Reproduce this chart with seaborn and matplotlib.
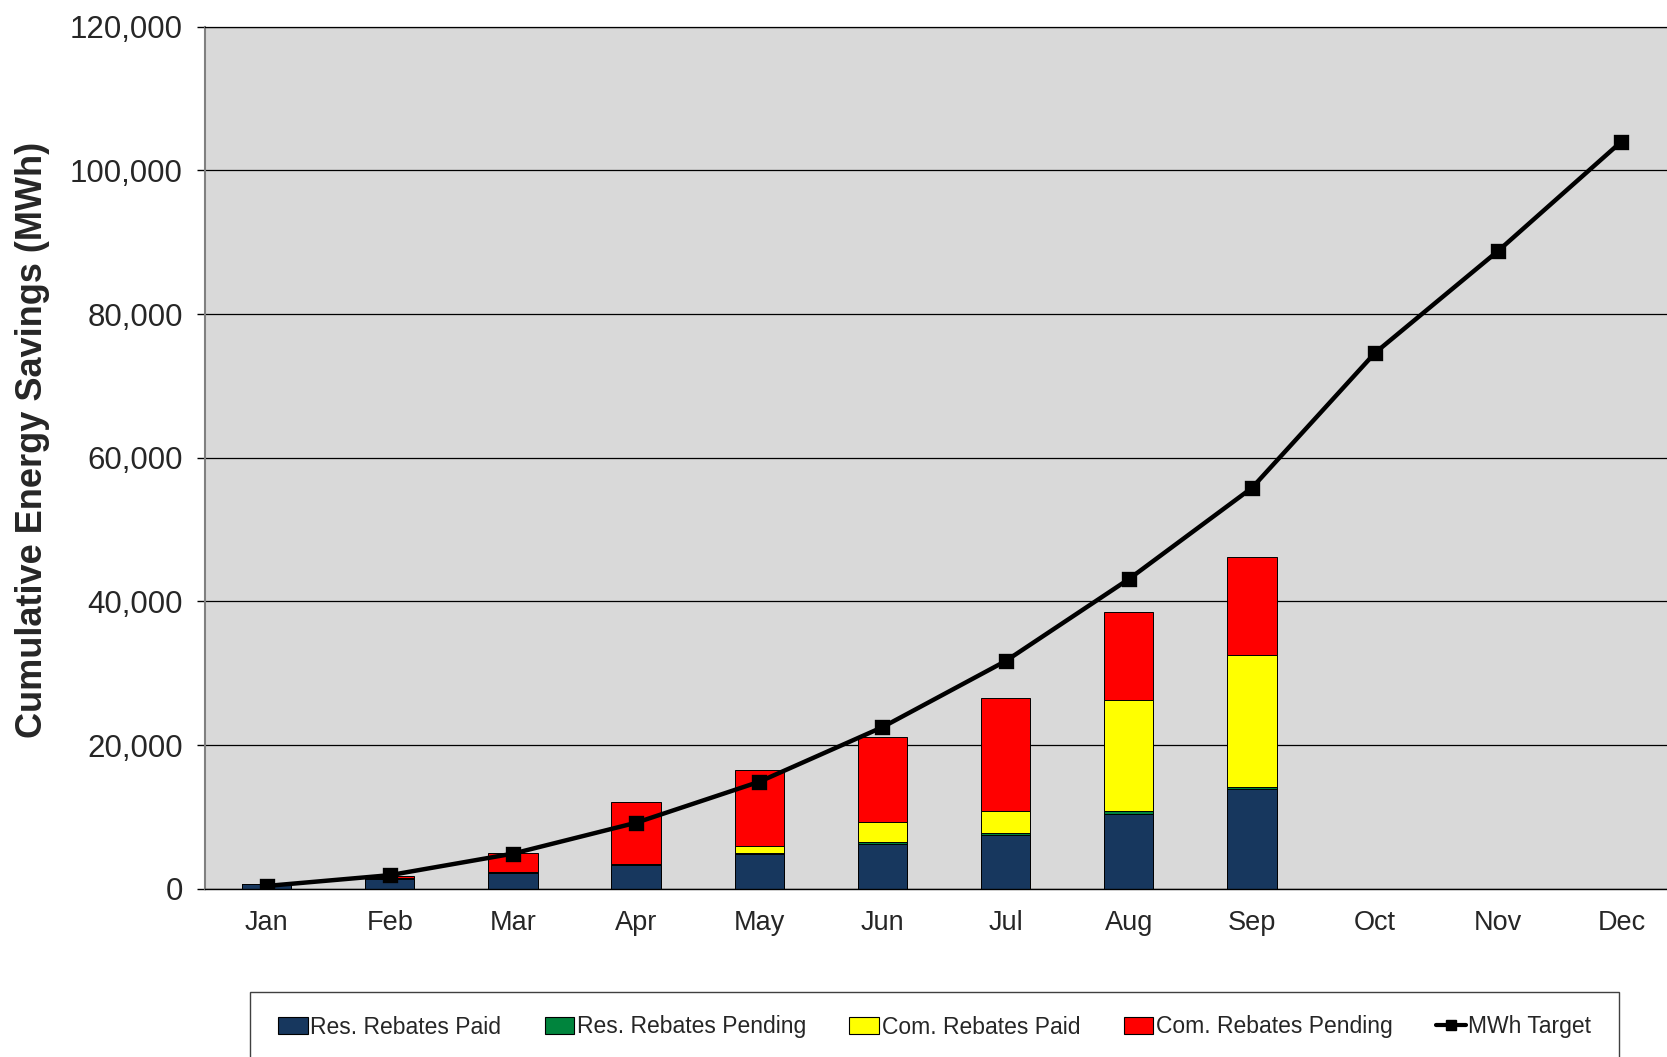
import matplotlib
matplotlib.use("Agg")
import matplotlib.pyplot as plt
from matplotlib.patches import Patch, Rectangle
from matplotlib.lines import Line2D
from matplotlib.ticker import FuncFormatter, FixedLocator
import numpy as np
import pandas as pd
import seaborn as sns

months = ["Jan", "Feb", "Mar", "Apr", "May", "Jun", "Jul", "Aug", "Sep", "Oct", "Nov", "Dec"]

# cumulative savings by month (MWh), data only through Sep
res_paid = [650, 1400, 2200, 3350, 4850, 6200, 7550, 10350, 13900]
res_pending = [30, 50, 100, 150, 150, 250, 250, 450, 250]
com_paid = [0, 0, 0, 0, 900, 2900, 3000, 15450, 18400]
com_pending = [50, 300, 2700, 8600, 10650, 11750, 15800, 12300, 13700]

mwh_target = [400, 1900, 4900, 9200, 14900, 22500, 31700, 43100, 55800, 74600, 88800, 104000]

labels = ["Res. Rebates Paid", "Res. Rebates Pending", "Com. Rebates Paid", "Com. Rebates Pending"]
colors = ["#17375E", "#00843D", "#FFFF00", "#FF0000"]

sns.set_style("white")
plt.rcParams["font.family"] = ["Liberation Sans", "DejaVu Sans"]

bars = pd.DataFrame({"Month": months[:9]})
bars["c1"] = np.array(res_paid)
bars["c2"] = bars["c1"] + np.array(res_pending)
bars["c3"] = bars["c2"] + np.array(com_paid)
bars["c4"] = bars["c3"] + np.array(com_pending)

fig = plt.figure(figsize=(16.67, 10.57), dpi=100)
ax = fig.add_axes([0.123, 0.1591, 1.0096 - 0.123, 0.9748 - 0.1591])
ax.set_facecolor("#D9D9D9")
ax.set_axisbelow(True)

# stacked bars: draw cumulative totals from top layer down
for col, c in zip(["c4", "c3", "c2", "c1"], colors[::-1]):
    sns.barplot(data=bars, x="Month", y=col, order=months, color=c, saturation=1,
                width=0.4, edgecolor="black", linewidth=0.7, errorbar=None, ax=ax)

sns.pointplot(x=months, y=mwh_target, order=months, color="black", markers="s",
              markersize=8.5, linewidth=3.2, errorbar=None, ax=ax)

ax.set_ylim(0, 120000)
ax.set_xlim(-0.5, 11.5)
ax.yaxis.set_major_locator(FixedLocator(np.arange(0, 120001, 20000)))
ax.yaxis.set_major_formatter(FuncFormatter(lambda v, p: f"{int(v):,}"))
ax.grid(axis="y", color="black", linewidth=0.9)
ax.grid(axis="x", visible=False)

ax.xaxis.set_minor_locator(FixedLocator(np.arange(-0.5, 12, 1)))
ax.tick_params(axis="x", which="major", length=0, labelsize=19.5, pad=15)
ax.tick_params(axis="x", which="minor", length=6, width=1, direction="out", color="black")
ax.tick_params(axis="y", which="major", length=6, width=1, direction="out", color="black",
               labelsize=22.5, pad=10, left=True)

ax.spines["right"].set_visible(False)
ax.spines["top"].set_color("black")
ax.spines["top"].set_linewidth(0.9)
ax.spines["left"].set_color("#808080")
ax.spines["left"].set_linewidth(1.5)
ax.spines["bottom"].set_color("black")
ax.spines["bottom"].set_linewidth(1.0)

ax.set_xlabel("")
ax.set_ylabel("Cumulative Energy Savings (MWh)", fontsize=26, fontweight="bold")
ax.yaxis.set_label_coords(-0.105, 0.521)

# legend box along the bottom
fig.patches.append(Rectangle((250 / 1667, -0.01), (1619 - 250) / 1667, 1 - 992 / 1057 + 0.01,
                             transform=fig.transFigure, facecolor="white",
                             edgecolor="#404040", linewidth=1.0))
handles = [Patch(facecolor=c, edgecolor="black", linewidth=0.8) for c in colors]
handles.append(Line2D([], [], color="black", marker="s", linewidth=3, markersize=7))
fig.legend(handles, labels + ["MWh Target"], loc="center",
           bbox_to_anchor=((250 + 1619) / 2 / 1667, 1 - 1027 / 1057), ncol=5,
           frameon=False, fontsize=16.5, handlelength=1.3, handleheight=0.8,
           handletextpad=0.1, columnspacing=1.9)

fig.savefig("out.png", dpi=100)
